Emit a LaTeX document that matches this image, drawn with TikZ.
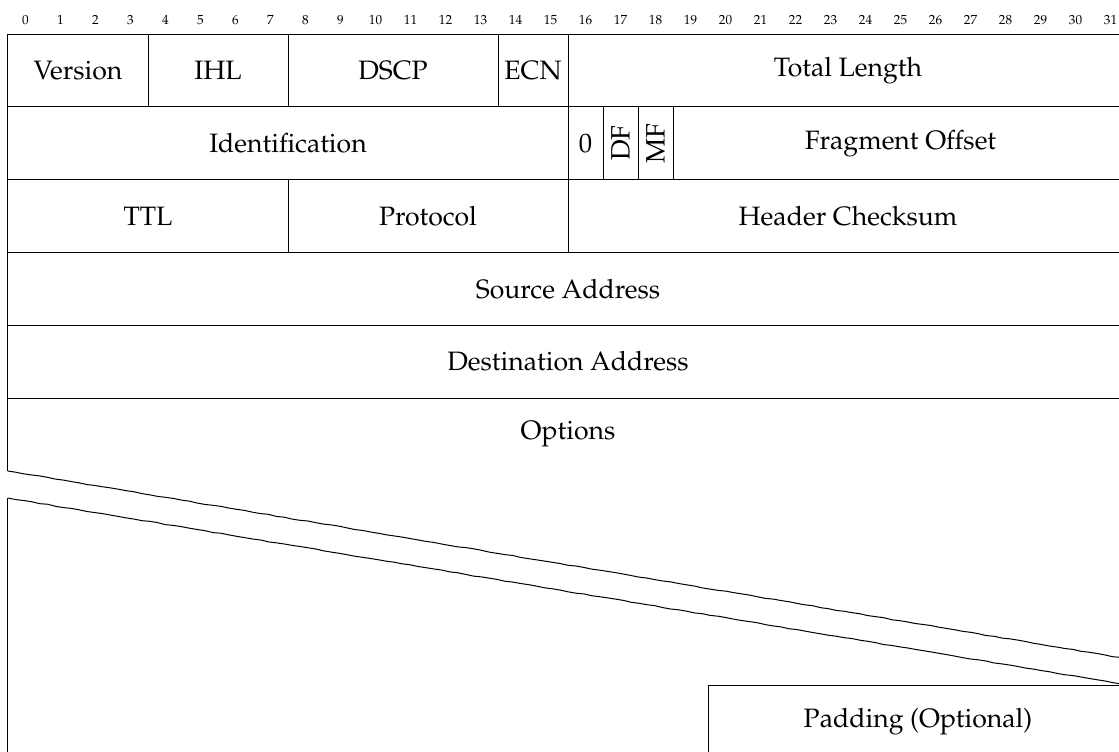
\documentclass[tikz,border=0pt]{standalone}
\usepackage[T1]{fontenc}
\usepackage{mathpazo}
\usetikzlibrary{decorations.pathmorphing}

% one bit is 17.5pt wide, one header word is 36.4pt high
\newlength{\bitw}\setlength{\bitw}{17.5pt}
\newlength{\rowh}\setlength{\rowh}{36.4pt}

\tikzset{
  field/.style={draw, line width=0.5pt, anchor=north west, inner sep=0pt, outer sep=0pt,
    minimum height=\rowh, minimum width=#1*\bitw,
    font=\fontsize{13.3}{15}\selectfont},
  bitnum/.style={inner sep=0pt, font=\fontsize{6.6}{8}\selectfont},
  label text/.style={inner sep=0pt, font=\fontsize{13.3}{15}\selectfont},
  torn/.style={line width=0.5pt, decorate,
    decoration={random steps, segment length=4pt, amplitude=0.2pt}},
}

\begin{document}
\begin{tikzpicture}[x=1pt, y=1pt]
\pgfmathsetseed{7}
\clip (-4,17) rectangle (555.5,-358.5);
\useasboundingbox (-4,17) rectangle (555.5,-358.5);

% bit positions
\foreach \i in {0,...,31}
  \node[bitnum] (b\i) at ({(\i+0.5)*\bitw}, 7) {\i};

% word 1
\node[field=4]  (version) at (0,0)          {Version};
\node[field=4]  (ihl)     at (4*\bitw,0)    {IHL};
\node[field=6]  (dscp)    at (8*\bitw,0)    {DSCP};
\node[field=2]  (ecn)     at (14*\bitw,0)   {ECN};
\node[field=16] (totlen)  at (16*\bitw,0)   {Total Length};

% word 2
\node[field=16] (ident)   at (0,-\rowh)          {Identification};
\node[field=1]  (zero)    at (16*\bitw,-\rowh)   {0};
\node[field=1]  (df)      at (17*\bitw,-\rowh)   {};
\node[field=1]  (mf)      at (18*\bitw,-\rowh)   {};
\node[field=13] (fragoff) at (19*\bitw,-\rowh)   {Fragment Offset};
\node[label text, rotate=90] (dftext) at (df.center) {DF};
\node[label text, rotate=90] (mftext) at (mf.center) {MF};

% word 3
\node[field=8]  (ttl)     at (0,-2\rowh)         {TTL};
\node[field=8]  (proto)   at (8*\bitw,-2\rowh)   {Protocol};
\node[field=16] (chksum)  at (16*\bitw,-2\rowh)  {Header Checksum};

% words 4 and 5
\node[field=32] (src)     at (0,-3\rowh)         {Source Address};
\node[field=32] (dst)     at (0,-4\rowh)         {Destination Address};

% options, open at the bottom with a torn edge
\coordinate (optTL) at (0,-5\rowh);
\coordinate (optTR) at (32*\bitw,-5\rowh);
\coordinate (optBL) at (0,-218.5);
\coordinate (optBR) at (32*\bitw,-312.5);
\node[label text] (options) at (16*\bitw,-5.5\rowh) {Options};
\draw[line width=0.5pt] (optBL) -- (optTL) -- (optTR) -- (optBR);
\draw[torn] (optBL) -- (optBR);

% continuation of the options field
\coordinate (contTL) at (0,-232);
\coordinate (contTR) at (32*\bitw,-325.5);
\coordinate (contBL) at (0,-380);
\draw[torn] (contTL) -- (contTR);
\draw[line width=0.5pt] (contTL) -- (contBL);

% padding
\node[field=12, minimum height=36.5pt] (padding) at (20*\bitw,-325.5) {Padding (Optional)};
\end{tikzpicture}
\end{document}
